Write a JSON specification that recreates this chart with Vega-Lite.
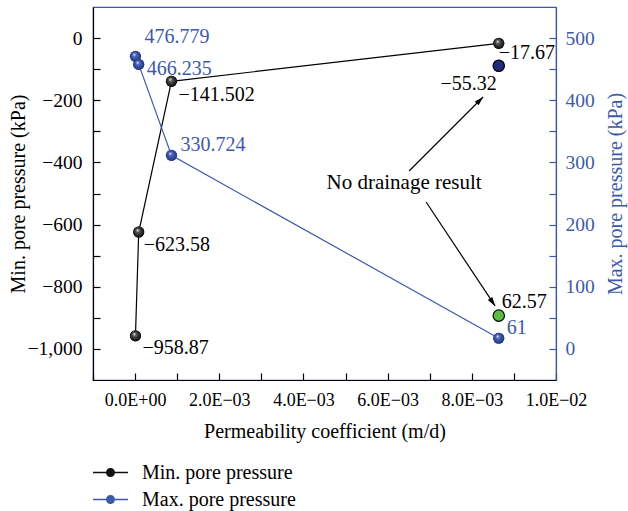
{
  "$schema": "https://vega.github.io/schema/vega-lite/v6.json",
  "width": 463,
  "height": 373,
  "autosize": {"type": "none"},
  "padding": {"left": 93, "top": 7, "right": 72, "bottom": 131},
  "background": "white",
  "config": {
    "font": "Liberation Serif",
    "view": {"stroke": "#3d5aa8", "strokeWidth": 1.2},
    "axis": {
      "grid": false,
      "labelFont": "Liberation Serif",
      "titleFont": "Liberation Serif",
      "titleFontWeight": "normal",
      "tickSize": -7,
      "tickWidth": 1.2,
      "domainWidth": 1.2,
      "labelFontSize": 19.5,
      "titleFontSize": 20,
      "labelFlush": false,
      "labelOverlap": false,
      "labelBound": false
    },
    "legend": {"labelFont": "Liberation Serif"}
  },
  "datasets": {
    "minp": [
      {"k": 0.00000864, "v": -958, "label": "−958.87", "series": "Min. pore pressure"},
      {"k": 0.0000864, "v": -624, "label": "−623.58", "series": "Min. pore pressure"},
      {"k": 0.000864, "v": -139, "label": "−141.502", "series": "Min. pore pressure"},
      {"k": 0.00864, "v": -17, "label": "−17.67", "series": "Min. pore pressure"}
    ],
    "maxp": [
      {"k": 0.00000864, "v": 470.6, "label": "476.779", "series": "Max. pore pressure"},
      {"k": 0.0000864, "v": 457.7, "label": "466.235", "series": "Max. pore pressure"},
      {"k": 0.000864, "v": 311.4, "label": "330.724", "series": "Max. pore pressure"},
      {"k": 0.00864, "v": 17.2, "label": "61", "series": "Max. pore pressure"}
    ],
    "nodrainMin": [{"k": 0.00864, "v": -89, "label": "−55.32"}],
    "nodrainMax": [{"k": 0.00864, "v": 53.5, "label": "62.57"}]
  },
  "layer": [
    {
      "encoding": {
        "x": {
          "field": "k", "type": "quantitative",
          "scale": {"domain": [-0.001, 0.01], "nice": false, "zero": false},
          "axis": {
            "title": "Permeability coefficient (m/d)",
            "values": [-0.001, 0, 0.001, 0.002, 0.003, 0.004, 0.005, 0.006, 0.007, 0.008, 0.009, 0.01],
            "labelExpr": "round(datum.value*1000)==0?'0.0E+00':round(datum.value*1000)==2?'2.0E−03':round(datum.value*1000)==4?'4.0E−03':round(datum.value*1000)==6?'6.0E−03':round(datum.value*1000)==8?'8.0E−03':round(datum.value*1000)==10?'1.0E−02':''",
            "labelFontSize": 18,
            "labelPadding": 18,
            "titlePadding": 12,
            "domainColor": "black",
            "tickColor": "black",
            "labelColor": "black",
            "titleColor": "black"
          }
        },
        "y": {
          "field": "v", "type": "quantitative",
          "scale": {"domain": [-1100, 100], "nice": false, "zero": false},
          "axis": {
            "title": "Min. pore pressure (kPa)",
            "values": [-1000, -900, -800, -700, -600, -500, -400, -300, -200, -100, 0],
            "labelExpr": "datum.value % 200 == 0 ? format(datum.value, ',') : ''",
            "labelPadding": 18,
            "titlePadding": -1,
            "domainColor": "black",
            "tickColor": "black",
            "labelColor": "black",
            "titleColor": "black"
          }
        }
      },
      "layer": [
        {"data": {"name": "minp"}, "mark": {"type": "line", "color": "black", "strokeWidth": 1.2}},
        {
          "data": {"name": "minp"},
          "mark": {"type": "point", "filled": true, "size": 120, "opacity": 1},
          "encoding": {
            "color": {
              "field": "series", "type": "nominal",
              "scale": {"domain": ["Min. pore pressure", "Max. pore pressure"], "range": ["#111111", "#3d5aa8"]},
              "legend": {
                "title": null,
                "orient": "none",
                "legendX": 5,
                "legendY": 453,
                "direction": "vertical",
                "symbolType": "M-1.4,-0.052H1.4V0.052H-1.4Z M-0.36,0A0.36,0.36,0,1,1,0.36,0A0.36,0.36,0,1,1,-0.36,0Z",
                "symbolSize": 625,
                "symbolStrokeWidth": 0,
                "labelFontSize": 20,
                "labelOffset": 19,
                "rowPadding": 4,
                "labelColor": "black"
              }
            }
          }
        },
        {
          "data": {"name": "minp"},
          "mark": {"type": "point", "filled": true, "size": 125, "opacity": 1, "strokeWidth": 0,
            "fill": {"gradient": "radial", "x1": 0.38, "y1": 0.32, "r1": 0, "x2": 0.5, "y2": 0.5, "r2": 0.55,
              "stops": [{"offset": 0, "color": "#ffffff"}, {"offset": 0.3, "color": "#555555"}, {"offset": 1, "color": "#000000"}]}}
        },
        {
          "data": {"name": "nodrainMin"},
          "mark": {"type": "point", "filled": true, "size": 130, "opacity": 1, "fill": "#222c78", "stroke": "black", "strokeWidth": 1.2}
        },
        {"data": {"name": "minp"}, "transform": [{"filter": "datum.label == '−958.87'"}], "mark": {"type": "text", "align": "left", "baseline": "middle", "dx": 7, "dy": 12, "fontSize": 20, "color": "black"}, "encoding": {"text": {"field": "label"}}},
        {"data": {"name": "minp"}, "transform": [{"filter": "datum.label == '−623.58'"}], "mark": {"type": "text", "align": "left", "baseline": "middle", "dx": 5, "dy": 13, "fontSize": 20, "color": "black"}, "encoding": {"text": {"field": "label"}}},
        {"data": {"name": "minp"}, "transform": [{"filter": "datum.label == '−141.502'"}], "mark": {"type": "text", "align": "left", "baseline": "middle", "dx": 7, "dy": 14, "fontSize": 20, "color": "black"}, "encoding": {"text": {"field": "label"}}},
        {"data": {"name": "minp"}, "transform": [{"filter": "datum.label == '−17.67'"}], "mark": {"type": "text", "align": "left", "baseline": "middle", "dx": 0, "dy": 10, "fontSize": 20, "color": "black"}, "encoding": {"text": {"field": "label"}}},
        {"data": {"name": "nodrainMin"}, "mark": {"type": "text", "align": "right", "baseline": "middle", "dx": -2, "dy": 18, "fontSize": 20, "color": "black"}, "encoding": {"text": {"field": "label"}}},
        {
          "data": {"values": [
            {"k": 0.00651, "v": -427.7, "k2": 0.008268, "v2": -189.7},
            {"k": 0.006914, "v": -527.3, "k2": 0.008553, "v2": -861.7}
          ]},
          "mark": {"type": "rule", "color": "black", "strokeWidth": 1.2},
          "encoding": {"x2": {"field": "k2"}, "y2": {"field": "v2"}}
        },
        {
          "data": {"values": [{"k": 0.008268, "v": -189.7}]},
          "mark": {"type": "point", "shape": "M0,0L0.6,2L-0.6,2Z", "filled": true, "color": "black", "opacity": 1, "size": 81, "angle": 45}
        },
        {
          "data": {"values": [{"k": 0.008553, "v": -861.7}]},
          "mark": {"type": "point", "shape": "M0,0L0.6,2L-0.6,2Z", "filled": true, "color": "black", "opacity": 1, "size": 81, "angle": 146}
        },
        {
          "data": {"values": [{"k": 0.006391, "v": -466, "t": "No drainage result"}]},
          "mark": {"type": "text", "align": "center", "baseline": "middle", "fontSize": 21, "color": "black"},
          "encoding": {"text": {"field": "t"}}
        }
      ]
    },
    {
      "encoding": {
        "x": {
          "field": "k", "type": "quantitative",
          "scale": {"domain": [-0.001, 0.01], "nice": false, "zero": false},
          "axis": {
            "title": "Permeability coefficient (m/d)",
            "values": [-0.001, 0, 0.001, 0.002, 0.003, 0.004, 0.005, 0.006, 0.007, 0.008, 0.009, 0.01],
            "labelExpr": "round(datum.value*1000)==0?'0.0E+00':round(datum.value*1000)==2?'2.0E−03':round(datum.value*1000)==4?'4.0E−03':round(datum.value*1000)==6?'6.0E−03':round(datum.value*1000)==8?'8.0E−03':round(datum.value*1000)==10?'1.0E−02':''",
            "labelFontSize": 18,
            "labelPadding": 18,
            "titlePadding": 12,
            "domainColor": "black",
            "tickColor": "black",
            "labelColor": "black",
            "titleColor": "black"
          }
        },
        "y": {
          "field": "v", "type": "quantitative",
          "scale": {"domain": [-50, 550], "nice": false, "zero": false},
          "axis": {
            "orient": "right",
            "title": "Max. pore pressure (kPa)",
            "titleAngle": 270,
            "values": [0, 50, 100, 150, 200, 250, 300, 350, 400, 450, 500],
            "labelExpr": "datum.value % 100 == 0 ? format(datum.value, ',') : ''",
            "labelPadding": 16,
            "titlePadding": 31,
            "domainColor": "#3d5aa8",
            "tickColor": "#3d5aa8",
            "labelColor": "#3d5aa8",
            "titleColor": "#3d5aa8"
          }
        }
      },
      "layer": [
        {"data": {"name": "maxp"}, "mark": {"type": "line", "color": "#3d5aa8", "strokeWidth": 1.2}},
        {
          "data": {"name": "maxp"},
          "mark": {"type": "point", "filled": true, "size": 120, "opacity": 1},
          "encoding": {
            "color": {
              "field": "series", "type": "nominal",
              "scale": {"domain": ["Min. pore pressure", "Max. pore pressure"], "range": ["#111111", "#3d5aa8"]}
            }
          }
        },
        {
          "data": {"name": "maxp"},
          "mark": {"type": "point", "filled": true, "size": 125, "opacity": 1, "strokeWidth": 0,
            "fill": {"gradient": "radial", "x1": 0.38, "y1": 0.32, "r1": 0, "x2": 0.5, "y2": 0.5, "r2": 0.55,
              "stops": [{"offset": 0, "color": "#ffffff"}, {"offset": 0.3, "color": "#4a66b8"}, {"offset": 1, "color": "#1d2f7a"}]}}
        },
        {
          "data": {"name": "nodrainMax"},
          "mark": {"type": "point", "filled": true, "size": 130, "opacity": 1, "fill": "#5cbb45", "stroke": "black", "strokeWidth": 1.2}
        },
        {"data": {"name": "maxp"}, "transform": [{"filter": "datum.label == '476.779'"}], "mark": {"type": "text", "align": "left", "baseline": "middle", "dx": 9, "dy": -19, "fontSize": 20, "color": "#3d5aa8"}, "encoding": {"text": {"field": "label"}}},
        {"data": {"name": "maxp"}, "transform": [{"filter": "datum.label == '466.235'"}], "mark": {"type": "text", "align": "left", "baseline": "middle", "dx": 8, "dy": 5, "fontSize": 20, "color": "#3d5aa8"}, "encoding": {"text": {"field": "label"}}},
        {"data": {"name": "maxp"}, "transform": [{"filter": "datum.label == '330.724'"}], "mark": {"type": "text", "align": "left", "baseline": "middle", "dx": 9, "dy": -10, "fontSize": 20, "color": "#3d5aa8"}, "encoding": {"text": {"field": "label"}}},
        {"data": {"name": "maxp"}, "transform": [{"filter": "datum.label == '61'"}], "mark": {"type": "text", "align": "left", "baseline": "middle", "dx": 8, "dy": -10, "fontSize": 20, "color": "#3d5aa8"}, "encoding": {"text": {"field": "label"}}},
        {"data": {"name": "nodrainMax"}, "mark": {"type": "text", "align": "left", "baseline": "middle", "dx": 3, "dy": -14, "fontSize": 20, "color": "black"}, "encoding": {"text": {"field": "label"}}}
      ]
    }
  ],
  "resolve": {"scale": {"y": "independent"}}
}
